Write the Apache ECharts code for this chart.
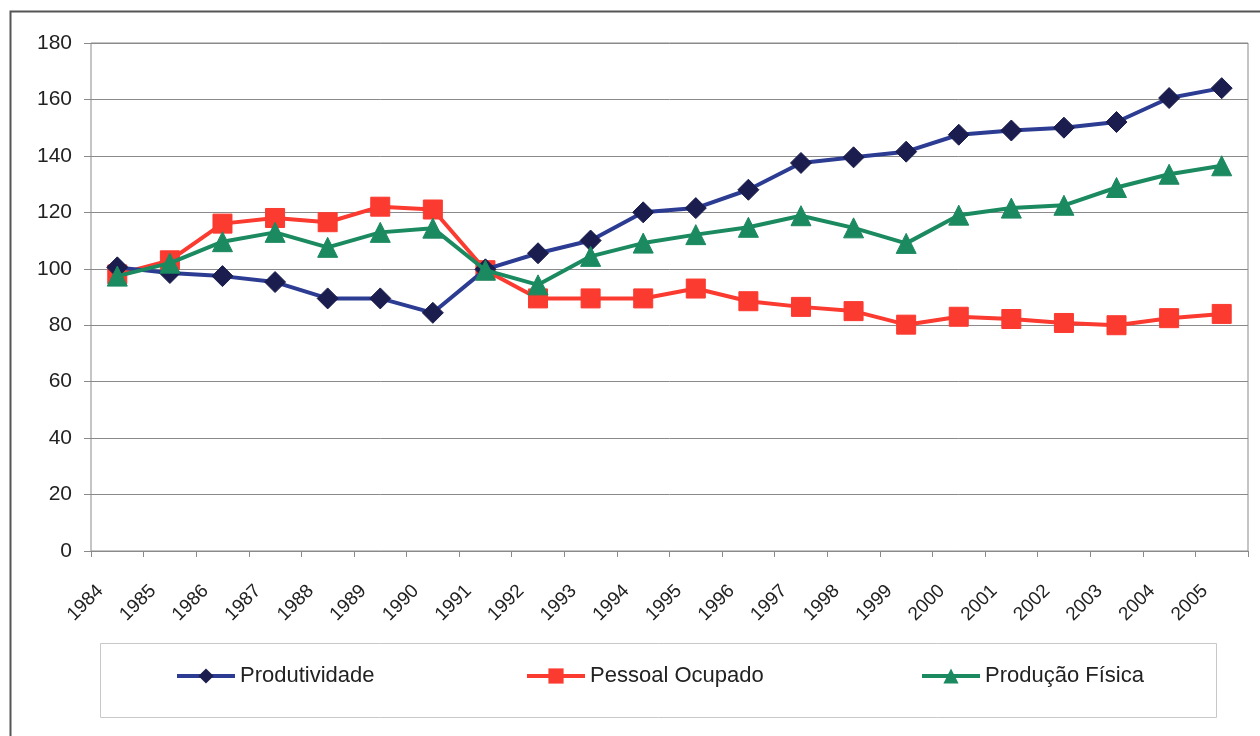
<!DOCTYPE html>
<html>
<head>
<meta charset="UTF-8">
<title>Produtividade</title>
<script src="https://cdn.jsdelivr.net/npm/echarts@6/dist/echarts.min.js"></script>
<style>
  html, body { margin: 0; padding: 0; background: #fff; }
  #chart { width: 1260px; height: 736px; }
</style>
</head>
<body>
<div id="chart"></div>
<script type="text/javascript">

  // anos
  var anos = ['1984','1985','1986','1987','1988','1989','1990','1991','1992','1993','1994',
              '1995','1996','1997','1998','1999','2000','2001','2002','2003','2004','2005'];

  // series (indice)
  var produtividade = [100.5, 98.5, 97.4, 95.3, 89.5, 89.5, 84.4, 99.8, 105.5, 110, 120,
                       121.5, 128, 137.5, 139.5, 141.5, 147.5, 149, 150, 152, 160.5, 164];
  var pessoalOcupado = [98, 103, 116, 118, 116.5, 122, 121, 99.5, 89.5, 89.5, 89.5,
                        93, 88.5, 86.5, 85, 80.2, 83, 82.2, 80.8, 80, 82.5, 84];
  var producaoFisica = [97.4, 102, 109.6, 112.9, 107.6, 112.9, 114.4, 99.5, 94.3, 104.4, 109.1,
                        112.1, 114.7, 118.8, 114.5, 109, 119, 121.5, 122.5, 128.8, 133.5, 136.5];

  var myChart = echarts.init(document.getElementById('chart'));

  var legendText = { fontFamily: 'Liberation Sans, Arial', fontSize: 22, color: '#222' };
  var legendBase = { top: 665, itemWidth: 58, itemHeight: 19, itemGap: 2, padding: 0,
                     lineStyle: { width: 4 }, textStyle: legendText };

  var option = {
      animation: false,
      backgroundColor: '#fff',
      grid: {
          left: 91, right: 12, top: 43, bottom: 185,
          show: true,
          borderColor: '#8a8a8a',
          borderWidth: 1
      },
      graphic: [
          { type: 'rect', z: -1, shape: { x: 10.5, y: 11.5, width: 1300, height: 800 },
            style: { fill: 'none', stroke: '#555', lineWidth: 2 } },
          { type: 'rect', z: -1, shape: { x: 100.5, y: 643.5, width: 1116, height: 74 },
            style: { fill: 'none', stroke: '#c8c8c8', lineWidth: 1 } }
      ],
      legend: [
          jQueryLike(legendBase, { data: ['Produtividade'], left: 175 }),
          jQueryLike(legendBase, { data: ['Pessoal Ocupado'], left: 525 }),
          jQueryLike(legendBase, { data: ['Produção Física'], left: 920 })
      ],
      xAxis: {
          type: 'category',
          data: anos,
          boundaryGap: true,
          axisLine: { lineStyle: { color: '#8a8a8a', width: 1 } },
          axisTick: { show: true, length: 6, lineStyle: { color: '#8a8a8a' } },
          axisLabel: {
              rotate: 45,
              interval: 0,
              margin: 20,
              padding: [0, 24, 0, 0],
              fontFamily: 'Liberation Sans, Arial',
              fontSize: 19,
              color: '#222'
          }
      },
      yAxis: {
          type: 'value',
          min: 0,
          max: 180,
          interval: 20,
          axisLine: { show: false },
          axisTick: { show: true, length: 7, lineStyle: { color: '#8a8a8a' } },
          axisLabel: {
              margin: 19,
              fontFamily: 'Liberation Sans, Arial',
              fontSize: 21,
              color: '#222'
          },
          splitLine: { lineStyle: { color: '#8a8a8a', width: 1 } }
      },
      series: [
          {
              name: 'Produtividade',
              type: 'line',
              data: produtividade,
              symbol: 'diamond',
              symbolSize: 21,
              lineStyle: { color: '#2b3c92', width: 4 },
              itemStyle: { color: '#1b1d4e', borderColor: '#1b1d4e' },
              z: 3
          },
          {
              name: 'Pessoal Ocupado',
              type: 'line',
              data: pessoalOcupado,
              symbol: 'rect',
              symbolSize: 19,
              lineStyle: { color: '#fb3a30', width: 4 },
              itemStyle: { color: '#fb3a30', borderColor: '#fb3a30' },
              z: 2
          },
          {
              name: 'Produção Física',
              type: 'line',
              data: producaoFisica,
              symbol: 'triangle',
              symbolSize: 20,
              lineStyle: { color: '#1b8a60', width: 4 },
              itemStyle: { color: '#1b8a60', borderColor: '#1b8a60' },
              z: 4
          }
      ]
  };

  function jQueryLike(a, b) {
      var o = {};
      for (var k in a) o[k] = a[k];
      for (var k2 in b) o[k2] = b[k2];
      return o;
  }

  myChart.setOption(option);

</script>
</body>
</html>
